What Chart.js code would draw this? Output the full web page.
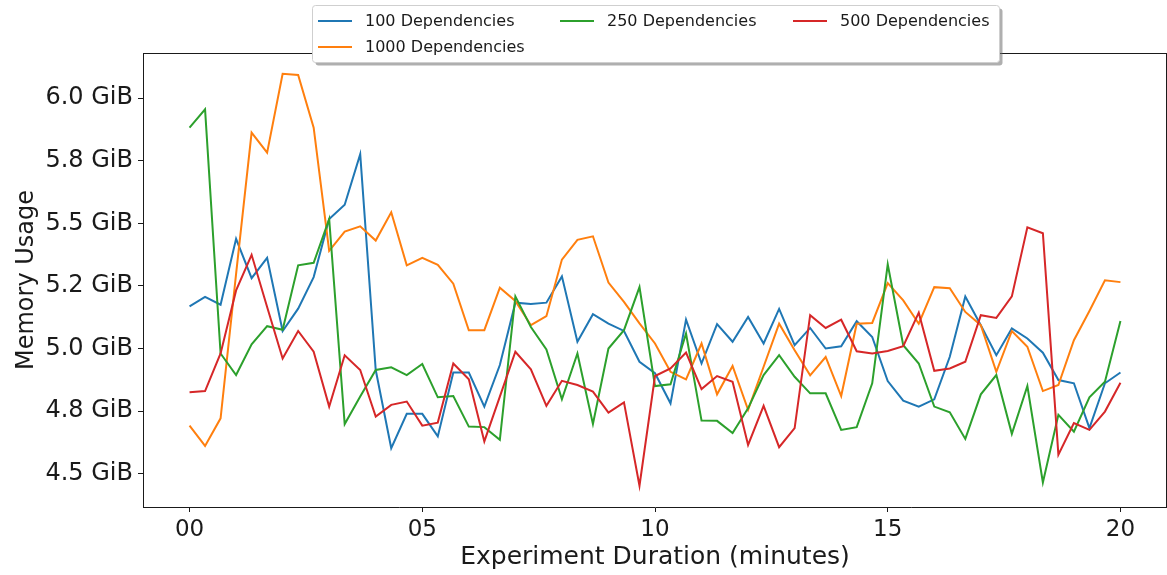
<!DOCTYPE html>
<html>
<head>
<meta charset="utf-8">
<title>Memory Usage</title>
<script src="https://cdn.jsdelivr.net/npm/chart.js@4.4.1/dist/chart.umd.min.js"></script>
<style>
  html, body { margin: 0; padding: 0; background: #fff; }
  canvas { display: block; }
</style>
</head>
<body>
<canvas id="memChart" width="1167" height="575"></canvas>
<script>
/*=============== DATA ===============*/
// one sample every 20 seconds, 0 .. 20 minutes
const sampleStep = 1 / 3
const xTicks = [0, 5, 10, 15, 20]
const xTickLabels = ['00', '05', '10', '15', '20']
const yTicks = [4.5, 4.75, 5.0, 5.25, 5.5, 5.75, 6.0]
const yTickLabels = ['4.5 GiB', '4.8 GiB', '5.0 GiB', '5.2 GiB', '5.5 GiB', '5.8 GiB', '6.0 GiB']

const seriesNames = ['100 Dependencies', '1000 Dependencies', '250 Dependencies', '500 Dependencies']
const seriesColors = ['#1f77b4', '#ff7f0e', '#2ca02c', '#d62728']

const deps100 = [5.168, 5.206, 5.175, 5.438, 5.281, 5.362, 5.070, 5.159, 5.285, 5.517, 5.574, 5.776, 4.914, 4.602, 4.739, 4.739,
    4.649, 4.904, 4.904, 4.768, 4.934, 5.183, 5.178, 5.183, 5.288, 5.027, 5.137, 5.099, 5.070, 4.947, 4.901,
    4.781, 5.115, 4.940, 5.097, 5.027, 5.126, 5.020, 5.158, 5.013, 5.082, 5.000, 5.009, 5.109, 5.046, 4.870,
    4.792, 4.768, 4.797, 4.967, 5.208, 5.093, 4.973, 5.080, 5.040, 4.983, 4.874, 4.861, 4.682, 4.861, 4.904]

const deps1000 = [4.692, 4.611, 4.721, 5.298, 5.862, 5.782, 6.097, 6.092, 5.882, 5.390, 5.467, 5.488, 5.431, 5.544, 5.332, 5.362,
    5.334, 5.259, 5.073, 5.073, 5.243, 5.190, 5.093, 5.129, 5.355, 5.434, 5.448, 5.263, 5.186, 5.100, 5.020,
    4.907, 4.877, 5.020, 4.817, 4.930, 4.755, 4.927, 5.099, 4.993, 4.893, 4.966, 4.810, 5.099, 5.102, 5.261,
    5.192, 5.099, 5.245, 5.241, 5.146, 5.093, 4.907, 5.070, 5.007, 4.830, 4.854, 5.033, 5.150, 5.272, 5.265]

const deps250 = [5.882, 5.955, 4.980, 4.894, 5.017, 5.089, 5.075, 5.332, 5.342, 5.517, 4.698, 4.808, 4.914, 4.925, 4.894, 4.938,
    4.805, 4.810, 4.688, 4.686, 4.635, 5.208, 5.086, 4.996, 4.797, 4.980, 4.699, 5.000, 5.073, 5.245, 4.850,
    4.857, 5.060, 4.712, 4.711, 4.662, 4.761, 4.894, 4.973, 4.887, 4.821, 4.821, 4.675, 4.686, 4.861, 5.336,
    5.013, 4.940, 4.768, 4.745, 4.639, 4.817, 4.894, 4.659, 4.850, 4.465, 4.735, 4.668, 4.805, 4.867, 5.110]

const deps500 = [4.825, 4.830, 4.980, 5.232, 5.374, 5.166, 4.960, 5.070, 4.987, 4.768, 4.973, 4.914, 4.728, 4.775, 4.788, 4.692,
    4.704, 4.940, 4.877, 4.629, 4.808, 4.987, 4.917, 4.771, 4.871, 4.854, 4.828, 4.744, 4.785, 4.452, 4.890,
    4.920, 4.984, 4.838, 4.890, 4.867, 4.615, 4.771, 4.606, 4.682, 5.133, 5.082, 5.115, 4.989, 4.980, 4.990,
    5.009, 5.143, 4.911, 4.920, 4.947, 5.133, 5.122, 5.208, 5.484, 5.460, 4.576, 4.702, 4.675, 4.748, 4.863]

const seriesValues = [deps100, deps1000, deps250, deps500]

/*=============== HELPERS ===============*/
const FONT = '"DejaVu Sans", "Liberation Sans", sans-serif'
const TEXT = '#1a1a1a'

const toPoints = values => values.map((v, i) => ({ x: i * sampleStep, y: v }))

// matplotlib style frame: top + right spines
const framePlugin = {
    id: 'frame',
    afterDatasetsDraw(chart) {
        const { ctx, chartArea: a } = chart
        ctx.save()
        ctx.strokeStyle = TEXT
        ctx.lineWidth = 1
        ctx.beginPath()
        ctx.moveTo(a.left, a.top + 0.5)
        ctx.lineTo(a.right, a.top + 0.5)
        ctx.moveTo(a.right - 0.5, a.top)
        ctx.lineTo(a.right - 0.5, a.bottom)
        ctx.stroke()
        ctx.restore()
    }
}

// legend box, 3 columns filled column by column
const legendPlugin = {
    id: 'colLegend',
    afterDraw(chart) {
        const ctx = chart.ctx
        const box = { x: 312.5, y: 5.5, w: 687, h: 57 }
        const cols = [318, 560, 793]
        const rows = [21, 47]
        const slots = [[0, 0], [0, 1], [1, 0], [2, 0]]

        ctx.save()
        // shadow
        ctx.fillStyle = 'rgba(110,110,110,0.55)'
        ctx.beginPath()
        ctx.roundRect(box.x + 3, box.y + 3, box.w, box.h, 3)
        ctx.fill()
        // box
        ctx.fillStyle = '#ffffff'
        ctx.strokeStyle = '#cfcfcf'
        ctx.lineWidth = 1
        ctx.beginPath()
        ctx.roundRect(box.x, box.y, box.w, box.h, 3)
        ctx.fill()
        ctx.stroke()

        ctx.font = '16px ' + FONT
        ctx.textBaseline = 'middle'
        ctx.textAlign = 'left'
        seriesNames.forEach((name, i) => {
            const x = cols[slots[i][0]]
            const y = rows[slots[i][1]]
            ctx.strokeStyle = seriesColors[i]
            ctx.lineWidth = 2
            ctx.beginPath()
            ctx.moveTo(x, y)
            ctx.lineTo(x + 34, y)
            ctx.stroke()
            ctx.fillStyle = TEXT
            ctx.fillText(name, x + 47, y + 1)
        })
        ctx.restore()
    }
}

/*=============== CHART ===============*/
const ctx = document.getElementById('memChart').getContext('2d')

new Chart(ctx, {
    type: 'line',
    data: {
        datasets: seriesValues.map((values, i) => ({
            label: seriesNames[i],
            data: toPoints(values),
            borderColor: seriesColors[i],
            backgroundColor: seriesColors[i],
            borderWidth: 2,
            pointRadius: 0,
            tension: 0,
            fill: false,
            order: 3 - i // later series on top, like matplotlib
        }))
    },
    options: {
        responsive: false,
        animation: false,
        events: [],
        layout: { padding: { top: 53, right: 0, bottom: 0, left: 0 } },
        plugins: {
            legend: { display: false },
            tooltip: { enabled: false }
        },
        scales: {
            x: {
                type: 'linear',
                min: -1,
                max: 21,
                afterBuildTicks: axis => { axis.ticks = xTicks.map(v => ({ value: v })) },
                afterFit: axis => { axis.height = 68 },
                ticks: {
                    callback: v => xTickLabels[xTicks.indexOf(v)],
                    font: { family: FONT, size: 23 },
                    color: TEXT,
                    padding: 4,
                    maxRotation: 0,
                    autoSkip: false
                },
                grid: { drawOnChartArea: false, drawTicks: true, tickLength: 5, color: TEXT },
                border: { display: true, color: TEXT, width: 1 },
                title: {
                    display: true,
                    text: 'Experiment Duration (minutes)',
                    font: { family: FONT, size: 25 },
                    color: TEXT,
                    padding: { top: 0, bottom: 3 }
                }
            },
            y: {
                min: 4.367,
                max: 6.18,
                afterBuildTicks: axis => { axis.ticks = yTicks.map(v => ({ value: v })) },
                afterFit: axis => { axis.width = 143 },
                ticks: {
                    callback: v => yTickLabels[yTicks.indexOf(v)],
                    font: { family: FONT, size: 24 },
                    color: TEXT,
                    padding: 5,
                    autoSkip: false
                },
                grid: { drawOnChartArea: false, drawTicks: true, tickLength: 5, color: TEXT },
                border: { display: true, color: TEXT, width: 1 },
                title: {
                    display: true,
                    text: 'Memory Usage',
                    font: { family: FONT, size: 24 },
                    color: TEXT,
                    padding: { top: 12, bottom: 0 }
                }
            }
        }
    },
    plugins: [framePlugin, legendPlugin]
})
</script>
</body>
</html>
